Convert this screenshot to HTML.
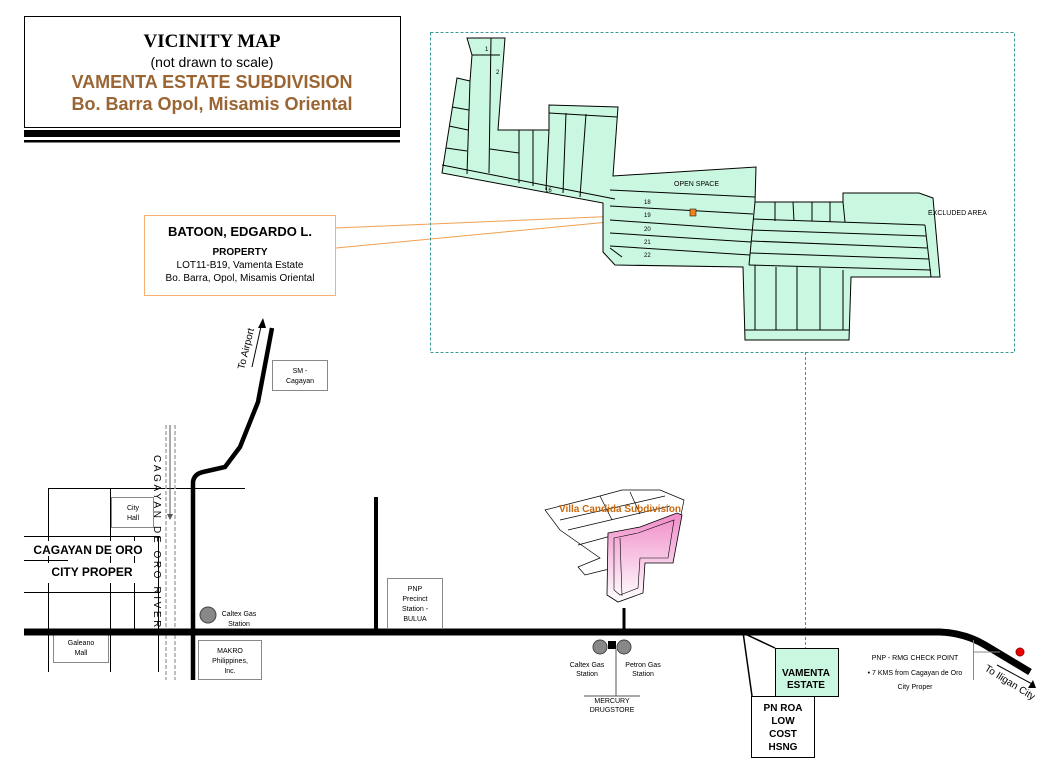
<!DOCTYPE html>
<html><head><meta charset="utf-8"><style>
html,body{margin:0;padding:0;background:#fff;}
svg{display:block;font-family:"Liberation Sans",sans-serif;}
</style></head><body>
<svg width="1056" height="768" viewBox="0 0 1056 768" xmlns="http://www.w3.org/2000/svg">
<defs>
<linearGradient id="pk" x1="0" y1="0" x2="0" y2="1"><stop offset="0" stop-color="#f08cc8"/><stop offset="1" stop-color="#fff"/></linearGradient>
</defs>
<!-- title -->
<rect x="24.5" y="16.5" width="376" height="111" fill="#fff" stroke="#000"/>
<rect x="24" y="130" width="376" height="7" fill="#000"/>
<rect x="24" y="140" width="376" height="2.5" fill="#000"/>
<text x="212" y="47" text-anchor="middle" font-family="Liberation Serif,serif" font-weight="bold" font-size="19">VICINITY MAP</text>
<text x="212" y="67" text-anchor="middle" font-size="14">(not drawn to scale)</text>
<text x="212" y="88" text-anchor="middle" font-weight="bold" font-size="18" fill="#9a6532">VAMENTA ESTATE SUBDIVISION</text>
<text x="212" y="110" text-anchor="middle" font-weight="bold" font-size="18" fill="#9a6532">Bo. Barra Opol, Misamis Oriental</text>

<!-- Batoon box -->
<rect x="144.5" y="215.5" width="191" height="80" fill="#fff" stroke="#f5b070"/>
<text x="240" y="236" text-anchor="middle" font-weight="bold" font-size="13">BATOON, EDGARDO L.</text>
<text x="240" y="255" text-anchor="middle" font-weight="bold" font-size="10">PROPERTY</text>
<text x="240" y="268" text-anchor="middle" font-size="10">LOT11-B19, Vamenta Estate</text>
<text x="240" y="281" text-anchor="middle" font-size="10">Bo. Barra, Opol, Misamis Oriental</text>
<line x1="336" y1="228" x2="692" y2="213" stroke="#f0a050"/>
<line x1="336" y1="248" x2="692" y2="214" stroke="#f0a050"/>

<!-- dashed frame -->
<rect x="430.5" y="32.5" width="584" height="320" fill="none" stroke="#3a9a9a" stroke-dasharray="3,2"/>
<line x1="805.5" y1="352" x2="805.5" y2="648" stroke="#3a9a9a" stroke-dasharray="3,2"/>

<!-- subdivision -->
<polygon points="467,38 505,38 498,130 549,130 549,105 618,107 613,176 756,167 755,202 843,202 843,193 919,193 933,198 940,277 851,277 849,340 745,340 743,267 615,265 603,252 603,203 442,173 457,78 470,81 472,55" fill="#c9f7df" stroke="#000"/>
<g stroke="#000" fill="none" stroke-width="1">
<line x1="472" y1="55" x2="500" y2="55"/>
<line x1="491" y1="38" x2="489" y2="173"/>
<line x1="467" y1="174" x2="470" y2="81"/>
<line x1="442" y1="165" x2="615" y2="199"/>
<line x1="452" y1="107" x2="469" y2="110"/>
<line x1="449" y1="126" x2="468" y2="130"/>
<line x1="446" y1="148" x2="467" y2="151"/>
<line x1="490" y1="149" x2="519" y2="153"/>
<line x1="519" y1="130" x2="519" y2="183"/>
<line x1="533" y1="130" x2="533" y2="186"/>
<line x1="549" y1="130" x2="546" y2="190"/>
<line x1="549" y1="113" x2="617" y2="117"/>
<line x1="566" y1="113" x2="563" y2="193"/>
<line x1="586" y1="114" x2="580" y2="197"/>
<line x1="610" y1="190" x2="755" y2="197"/>
<line x1="610" y1="206" x2="753" y2="214"/>
<line x1="610" y1="220" x2="752" y2="230"/>
<line x1="610" y1="233" x2="751" y2="242"/>
<line x1="610" y1="246" x2="750" y2="255"/>
<line x1="610" y1="248" x2="622" y2="257"/>
<line x1="755" y1="202" x2="749" y2="265"/>
<line x1="753" y1="219" x2="925" y2="225"/>
<line x1="752" y1="230" x2="926" y2="236"/>
<line x1="751" y1="241" x2="927" y2="248"/>
<line x1="750" y1="253" x2="929" y2="259"/>
<line x1="749" y1="265" x2="931" y2="270"/>
<line x1="925" y1="225" x2="931" y2="277"/>
<line x1="843" y1="202" x2="845" y2="222"/>
<line x1="775" y1="202" x2="775" y2="221"/>
<line x1="793" y1="202" x2="794" y2="221"/>
<line x1="812" y1="202" x2="812" y2="221"/>
<line x1="830" y1="202" x2="830" y2="222"/>
<line x1="755" y1="265" x2="755" y2="330"/>
<line x1="776" y1="267" x2="776" y2="330"/>
<line x1="797" y1="267" x2="797" y2="330"/>
<line x1="820" y1="268" x2="820" y2="330"/>
<line x1="843" y1="270" x2="843" y2="330"/>
<line x1="745" y1="330" x2="849" y2="330"/>
</g>
<rect x="690" y="209" width="6" height="7" fill="#f08020" stroke="#000" stroke-width="0.5"/>
<g font-size="6" fill="#000">
<text x="485" y="51">1</text><text x="496" y="74">2</text>
<text x="545" y="192">16</text>
<text x="674" y="186" font-size="7">OPEN SPACE</text>
<text x="928" y="215" font-size="7">EXCLUDED AREA</text>
<text x="644" y="204">18</text><text x="644" y="217">19</text><text x="644" y="231">20</text><text x="644" y="244">21</text><text x="644" y="257">22</text>
</g>

<!-- city grid -->
<g stroke="#000" stroke-width="1">
<line x1="48" y1="488.5" x2="245" y2="488.5"/>
<line x1="24" y1="536.5" x2="160" y2="536.5"/>
<line x1="24" y1="560.5" x2="68" y2="560.5"/>
<line x1="24" y1="592.5" x2="160" y2="592.5"/>
<line x1="48.5" y1="488" x2="48.5" y2="672"/>
<line x1="110.5" y1="488" x2="110.5" y2="672"/>
<line x1="134.5" y1="536" x2="134.5" y2="632"/>
<line x1="158.5" y1="536" x2="158.5" y2="672"/>
</g>
<line x1="166" y1="425" x2="166" y2="680" stroke="#aaa" stroke-width="1.5" stroke-dasharray="4,2"/>
<line x1="175" y1="425" x2="175" y2="680" stroke="#aaa" stroke-width="1.5" stroke-dasharray="4,2"/>
<line x1="170" y1="425" x2="170" y2="516" stroke="#555"/>
<polygon points="167,514 173,514 170,520" fill="#555"/>
<text font-size="10" transform="translate(154,455) rotate(90)" letter-spacing="2.6">CAGAYAN DE ORO RIVER</text>
<rect x="111.5" y="497.5" width="42" height="30" fill="#fff" stroke="#888"/>
<text x="133" y="510" text-anchor="middle" font-size="7">City</text><text x="133" y="520" text-anchor="middle" font-size="7">Hall</text>
<rect x="24" y="541" width="126" height="15" fill="#fff"/>
<rect x="45" y="563" width="95" height="20" fill="#fff"/>
<text x="88" y="554" text-anchor="middle" font-weight="bold" font-size="12">CAGAYAN DE ORO</text>
<text x="92" y="576" text-anchor="middle" font-weight="bold" font-size="12">CITY PROPER</text>
<rect x="53.5" y="632.5" width="55" height="30" fill="#fff" stroke="#888"/>
<text x="81" y="645" text-anchor="middle" font-size="7">Galeano</text><text x="81" y="655" text-anchor="middle" font-size="7">Mall</text>

<!-- roads -->
<path d="M24,632 L940,632 Q965,633 985,645 L1030,672" fill="none" stroke="#000" stroke-width="7"/>
<path d="M193,680 L193,482 Q194,474 203,472 L225,467 L240,447 L258,402 L272,328" fill="none" stroke="#000" stroke-width="4.5"/>
<line x1="376" y1="497" x2="376" y2="632" stroke="#000" stroke-width="4"/>
<line x1="624" y1="608" x2="624" y2="632" stroke="#000" stroke-width="3"/>
<line x1="252" y1="367" x2="262" y2="322" stroke="#000"/>
<polygon points="258,328 266,328 263,318" fill="#000"/>
<text font-size="10" transform="translate(244,370) rotate(-76)">To Airport</text>
<rect x="272.5" y="360.5" width="55" height="30" fill="#fff" stroke="#888"/>
<text x="300" y="373" text-anchor="middle" font-size="7">SM -</text><text x="300" y="383" text-anchor="middle" font-size="7">Cagayan</text>

<circle cx="208" cy="615" r="8" fill="#888" stroke="#444"/>
<text x="239" y="616" text-anchor="middle" font-size="7">Caltex Gas</text><text x="239" y="626" text-anchor="middle" font-size="7">Station</text>
<rect x="198.5" y="640.5" width="63" height="39" fill="#fff" stroke="#888"/>
<text x="230" y="653" text-anchor="middle" font-size="7">MAKRO</text><text x="230" y="663" text-anchor="middle" font-size="7">Philippines,</text><text x="230" y="673" text-anchor="middle" font-size="7">Inc.</text>
<rect x="387.5" y="578.5" width="55" height="50" fill="#fff" stroke="#888"/>
<text x="415" y="591" text-anchor="middle" font-size="7">PNP</text><text x="415" y="601" text-anchor="middle" font-size="7">Precinct</text><text x="415" y="611" text-anchor="middle" font-size="7">Station -</text><text x="415" y="621" text-anchor="middle" font-size="7">BULUA</text>

<!-- villa candida -->
<g fill="none" stroke="#000" stroke-width="0.7">
<polygon points="545,510 600,496 622,490 660,490 684,500 676,540 640,565 605,570 585,575 578,567 600,558 560,530" fill="#fff"/>
<line x1="560" y1="520" x2="665" y2="496"/><line x1="568" y1="530" x2="670" y2="506"/><line x1="578" y1="545" x2="640" y2="528"/>
<line x1="600" y1="496" x2="612" y2="520"/><line x1="630" y1="492" x2="640" y2="514"/>
</g>
<polygon points="608,533 640,527 677,513 682,515 673,563 645,563 643,593 618,602 607,595" fill="url(#pk)" stroke="#000" stroke-width="0.8"/>
<polygon points="614,538 638,533 674,520 668,558 640,558 638,588 620,595 614,590" fill="none" stroke="#000" stroke-width="0.6"/>
<line x1="620" y1="538" x2="622" y2="596" stroke="#000" stroke-width="0.6"/>
<text x="620" y="512" text-anchor="middle" font-size="10" font-weight="bold" fill="#c86a10">Villa Candida Subdivision</text>

<!-- gas stations -->
<circle cx="600" cy="647" r="7" fill="#888" stroke="#444"/>
<circle cx="624" cy="647" r="7" fill="#888" stroke="#444"/>
<rect x="608" y="641" width="8" height="8" fill="#000"/>
<line x1="616" y1="649" x2="616" y2="696" stroke="#555"/>
<line x1="584" y1="696" x2="640" y2="696" stroke="#555"/>
<text x="587" y="667" text-anchor="middle" font-size="7">Caltex Gas</text><text x="587" y="676" text-anchor="middle" font-size="7">Station</text>
<text x="643" y="667" text-anchor="middle" font-size="7">Petron Gas</text><text x="643" y="676" text-anchor="middle" font-size="7">Station</text>
<text x="612" y="703" text-anchor="middle" font-size="7">MERCURY</text><text x="612" y="712" text-anchor="middle" font-size="7">DRUGSTORE</text>

<!-- Vamenta / PN ROA -->
<line x1="743" y1="632" x2="752" y2="696" stroke="#000" stroke-width="1.5"/>
<line x1="743" y1="633" x2="775" y2="648" stroke="#000" stroke-width="1.5"/>
<rect x="775.5" y="648.5" width="63" height="48" fill="#c9f7df" stroke="#000"/>
<text x="806" y="676" text-anchor="middle" font-weight="bold" font-size="10">VAMENTA</text>
<text x="806" y="688" text-anchor="middle" font-weight="bold" font-size="10">ESTATE</text>
<rect x="751.5" y="696.5" width="63" height="61" fill="#fff" stroke="#000"/>
<text x="783" y="711" text-anchor="middle" font-weight="bold" font-size="10">PN ROA</text>
<text x="783" y="724" text-anchor="middle" font-weight="bold" font-size="10">LOW</text>
<text x="783" y="737" text-anchor="middle" font-weight="bold" font-size="10">COST</text>
<text x="783" y="750" text-anchor="middle" font-weight="bold" font-size="10">HSNG</text>

<!-- checkpoint -->
<line x1="973.5" y1="640" x2="973.5" y2="680" stroke="#888"/>
<line x1="973" y1="652" x2="1000" y2="652" stroke="#888"/>
<circle cx="1020" cy="652" r="4" fill="#e00" stroke="#900"/>
<text x="915" y="660" text-anchor="middle" font-size="7">PNP - RMG CHECK POINT</text>
<text x="915" y="675" text-anchor="middle" font-size="7">• 7 KMS from Cagayan de Oro</text>
<text x="915" y="689" text-anchor="middle" font-size="7">City Proper</text>
<line x1="997" y1="665" x2="1034" y2="685" stroke="#000"/>
<polygon points="1036,688 1028,688 1033,680" fill="#000"/>
<text font-size="10" transform="translate(984,670) rotate(32)">To  Iligan City</text>
</svg>
</body></html>
